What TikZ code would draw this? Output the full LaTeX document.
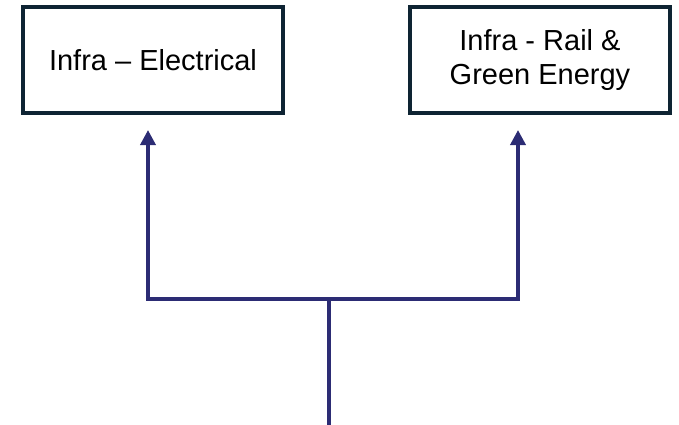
\documentclass[tikz,border=0pt]{standalone}
\usepackage{fontspec}
\setmainfont{Liberation Sans}
\usetikzlibrary{arrows.meta, positioning}
\definecolor{boxline}{HTML}{0E2433}
\definecolor{navy}{HTML}{2C2C74}

\begin{document}
\begin{tikzpicture}[x=1pt, y=-1pt,
  unit/.style={draw=boxline, line width=4pt, minimum width=260pt, minimum height=106pt,
    align=center, inner sep=0pt, font=\fontsize{29}{34}\selectfont},
  link/.style={draw=navy, line width=3.5pt}]
  \useasboundingbox (0,0) rectangle (679,425);

  % Business units
  \node[unit] (elec) at (153,60) {Infra \textendash{} Electrical};
  \node[unit] (rail) at (540,60) {Infra - Rail \&\\Green Energy};

  % Tree points
  \coordinate (root) at (329,425);
  \coordinate (split) at (329,299);
  \coordinate (tipL) at (148,130);
  \coordinate (tipR) at (518,130);

  % Connectors
  \draw[link] (root) -- (split);
  \draw[link, -{Triangle[length=15pt, width=15pt]}] (split) -| (tipL);
  \draw[link, -{Triangle[length=15pt, width=15pt]}] (split) -| (tipR);
\end{tikzpicture}
\end{document}
